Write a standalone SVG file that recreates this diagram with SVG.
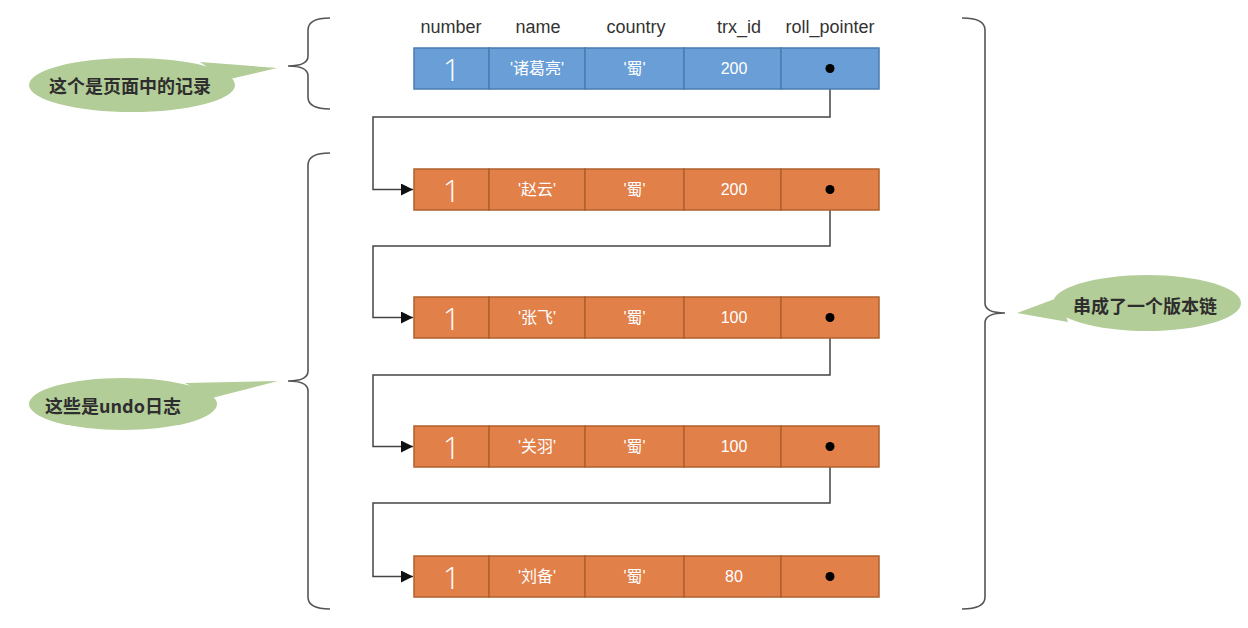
<svg xmlns="http://www.w3.org/2000/svg" width="1248" height="628" viewBox="0 0 1248 628">
<style>
.bg{fill:#ffffff}
.hdr{font-family:"Liberation Sans","Noto Sans CJK SC",sans-serif;font-size:18px;fill:#333333;text-anchor:middle;dominant-baseline:central}
.blue rect{fill:#6A9ED6;stroke:#4A7CB0;stroke-width:1.5}
.orange rect{fill:#E2804A;stroke:#B0602E;stroke-width:1.5}
.cell{font-family:"Liberation Sans","Noto Sans CJK SC",sans-serif;font-size:16px;fill:#FFFFFF;text-anchor:middle;dominant-baseline:central}
.one{font-family:"Open Sans","Liberation Sans",sans-serif;font-weight:300;font-size:31px;fill:#FFFFFF;text-anchor:middle;dominant-baseline:central}
.dot{fill:#000000}
.conn{fill:none;stroke:#444444;stroke-width:1.5}
.brace{fill:none;stroke:#555555;stroke-width:1.6}
.bubble{fill:#B3CD98}
.btxt{font-family:"Noto Sans CJK SC","Liberation Sans",sans-serif;font-size:18px;font-weight:bold;fill:#2E2E2E;text-anchor:middle;dominant-baseline:central}
</style>
<defs>
<marker id="arr" markerUnits="userSpaceOnUse" markerWidth="13" markerHeight="13" refX="12" refY="6" orient="auto">
<path d="M0,0 L12,6 L0,12 z" fill="#111111"/>
</marker>
</defs>
<rect class="bg" x="0" y="0" width="1248" height="628"/>

<g id="headers">
<text class="hdr" x="451" y="27">number</text>
<text class="hdr" x="538" y="27">name</text>
<text class="hdr" x="636" y="27">country</text>
<text class="hdr" x="739" y="27">trx_id</text>
<text class="hdr" x="830" y="27">roll_pointer</text>
</g>

<g id="braces">
<path class="brace" d="M330,18 Q308,18 308,30 L308,56 Q308,66 288,66 Q308,66 308,76 L308,97 Q308,109 330,109"/>
<path class="brace" d="M330,153 Q308,153 308,165 L308,371 Q308,381 288,381 Q308,381 308,391 L308,597 Q308,609 330,609"/>
<path class="brace" d="M962,18 Q985,18 985,30 L985,303 Q985,313 1005,313 Q985,313 985,323 L985,597 Q985,609 962,609"/>
</g>

<g id="connectors">
<path class="conn" marker-end="url(#arr)" d="M830,68 V117 H373 V189.5 H413"/>
<path class="conn" marker-end="url(#arr)" d="M830,190 V246 H373 V317.5 H413"/>
<path class="conn" marker-end="url(#arr)" d="M830,318 V375 H373 V446.5 H413"/>
<path class="conn" marker-end="url(#arr)" d="M830,447 V503 H373 V576.5 H413"/>
</g>

<g id="row0" class="blue">
<rect x="414" y="48" width="75" height="41"/>
<rect x="489" y="48" width="96" height="41"/>
<rect x="585" y="48" width="99" height="41"/>
<rect x="684" y="48" width="97" height="41"/>
<rect x="781" y="48" width="98" height="41"/>
<text class="one" x="451.5" y="68.5">1</text>
<text class="cell" x="537" y="68.5">'诸葛亮'</text>
<text class="cell" x="634.5" y="68.5">'蜀'</text>
<text class="cell" x="734" y="68.5">200</text>
<circle class="dot" cx="830" cy="68.5" r="4.5"/>
</g>

<g id="row1" class="orange">
<rect x="414" y="169" width="75" height="41"/>
<rect x="489" y="169" width="96" height="41"/>
<rect x="585" y="169" width="99" height="41"/>
<rect x="684" y="169" width="97" height="41"/>
<rect x="781" y="169" width="98" height="41"/>
<text class="one" x="451.5" y="189.5">1</text>
<text class="cell" x="537" y="189.5">'赵云'</text>
<text class="cell" x="634.5" y="189.5">'蜀'</text>
<text class="cell" x="734" y="189.5">200</text>
<circle class="dot" cx="830" cy="189.5" r="4.5"/>
</g>

<g id="row2" class="orange">
<rect x="414" y="297" width="75" height="41"/>
<rect x="489" y="297" width="96" height="41"/>
<rect x="585" y="297" width="99" height="41"/>
<rect x="684" y="297" width="97" height="41"/>
<rect x="781" y="297" width="98" height="41"/>
<text class="one" x="451.5" y="317.5">1</text>
<text class="cell" x="537" y="317.5">'张飞'</text>
<text class="cell" x="634.5" y="317.5">'蜀'</text>
<text class="cell" x="734" y="317.5">100</text>
<circle class="dot" cx="830" cy="317.5" r="4.5"/>
</g>

<g id="row3" class="orange">
<rect x="414" y="426" width="75" height="41"/>
<rect x="489" y="426" width="96" height="41"/>
<rect x="585" y="426" width="99" height="41"/>
<rect x="684" y="426" width="97" height="41"/>
<rect x="781" y="426" width="98" height="41"/>
<text class="one" x="451.5" y="446.5">1</text>
<text class="cell" x="537" y="446.5">'关羽'</text>
<text class="cell" x="634.5" y="446.5">'蜀'</text>
<text class="cell" x="734" y="446.5">100</text>
<circle class="dot" cx="830" cy="446.5" r="4.5"/>
</g>

<g id="row4" class="orange">
<rect x="414" y="556" width="75" height="41"/>
<rect x="489" y="556" width="96" height="41"/>
<rect x="585" y="556" width="99" height="41"/>
<rect x="684" y="556" width="97" height="41"/>
<rect x="781" y="556" width="98" height="41"/>
<text class="one" x="451.5" y="576.5">1</text>
<text class="cell" x="537" y="576.5">'刘备'</text>
<text class="cell" x="634.5" y="576.5">'蜀'</text>
<text class="cell" x="734" y="576.5">80</text>
<circle class="dot" cx="830" cy="576.5" r="4.5"/>
</g>

<g id="callout-page">
<path class="bubble" d="M200,62 L277,68 L226,80 Z"/>
<ellipse class="bubble" cx="132" cy="85" rx="103" ry="27"/>
<text class="btxt" x="130" y="85">这个是页面中的记录</text>
</g>

<g id="callout-undo">
<path class="bubble" d="M185,383 L278,381 L212,398 Z"/>
<ellipse class="bubble" cx="123" cy="404" rx="94" ry="26"/>
<text class="btxt" x="113" y="405">这些是undo日志</text>
</g>

<g id="callout-chain">
<path class="bubble" d="M1060,297 L1017,313 L1068,322 Z"/>
<ellipse class="bubble" cx="1147" cy="303" rx="94" ry="28"/>
<text class="btxt" x="1145" y="305">串成了一个版本链</text>
</g>
</svg>
